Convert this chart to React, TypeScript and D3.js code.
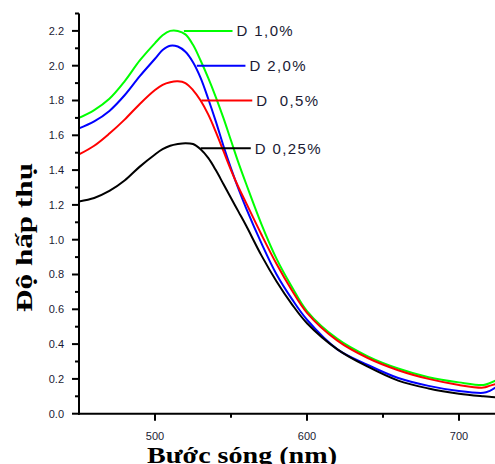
import * as d3 from "d3";

// wavelength (nm) sampled from the spectra
const wavelength = [
  450, 460, 470, 480, 490, 500, 505, 510, 515, 520, 525, 530, 535, 540, 545,
  550, 555, 560, 570, 580, 590, 600, 620, 640, 660, 680, 700, 716, 720, 724,
];

const d10 = [
  1.7, 1.745, 1.81, 1.91, 2.03, 2.13, 2.175, 2.2, 2.2, 2.18, 2.12, 2.03, 1.93,
  1.82, 1.7, 1.57, 1.44, 1.32, 1.09, 0.89, 0.73, 0.59, 0.43, 0.33, 0.26, 0.21,
  0.18, 0.165, 0.175, 0.19,
];
const d20 = [
  1.64, 1.68, 1.74, 1.83, 1.94, 2.04, 2.09, 2.115, 2.11, 2.08, 2.02, 1.93,
  1.81, 1.68, 1.54, 1.41, 1.29, 1.18, 0.98, 0.8, 0.66, 0.54, 0.37, 0.28,
  0.205, 0.16, 0.13, 0.12, 0.13, 0.15,
];
const d05 = [
  1.49, 1.54, 1.61, 1.69, 1.78, 1.86, 1.89, 1.905, 1.91, 1.9, 1.86, 1.8, 1.72,
  1.62, 1.51, 1.4, 1.3, 1.21, 1.03, 0.86, 0.71, 0.58, 0.42, 0.32, 0.25, 0.2,
  0.165, 0.15, 0.16, 0.17,
];
const d025 = [
  1.22, 1.24, 1.28, 1.34, 1.42, 1.49, 1.52, 1.54, 1.55, 1.555, 1.55, 1.52,
  1.47, 1.4, 1.32, 1.24, 1.16, 1.08, 0.91, 0.76, 0.63, 0.52, 0.37, 0.27, 0.19,
  0.145, 0.115, 0.1, 0.097, 0.095,
];

const seriesNames = ["D 1,0%", "D 2,0%", "D  0,5%", "D 0,25%"];
const seriesColors = ["#00ff00", "#0000ff", "#ff0000", "#000000"];
const seriesValues = [d10, d20, d05, d025];

// leader lines for the labels: [start nm, end nm, absorbance]
const leaderStart = [519, 527.5, 530.5, 530];
const leaderEnd = [551, 559.5, 564, 563];
const leaderValue = [2.2, 2.0, 1.8, 1.525];

const xMajor = [500, 600, 700];
const xMinor = [550, 650];

export default function App() {
  const width = 495;
  const height = 464;

  const x = d3.scaleLinear().domain([450, 725]).range([79, 497]);
  const y = d3.scaleLinear().domain([0, 2.3]).range([413.7, 13.5]);

  const line = d3
    .line<number>()
    .x((d, i) => x(wavelength[i]))
    .y((d) => y(d))
    .curve(d3.curveCatmullRom);

  const yMajor = d3.range(0, 2.21, 0.2);
  const yMinor = d3.range(0.1, 2.31, 0.2);

  return (
    <svg
      width={width}
      height={height}
      style={{ position: "absolute", left: 0, top: 0, background: "#fff" }}
    >
      {seriesValues.map((vals, i) => (
        <path
          key={i}
          d={line(vals) || ""}
          fill="none"
          stroke={seriesColors[i]}
          strokeWidth={2}
        />
      ))}

      {seriesNames.map((name, i) => (
        <g key={name}>
          <line
            x1={x(leaderStart[i])}
            x2={x(leaderEnd[i])}
            y1={y(leaderValue[i])}
            y2={y(leaderValue[i])}
            stroke={seriesColors[i]}
            strokeWidth={2}
          />
          <text
            x={x(leaderEnd[i]) + 4}
            y={y(leaderValue[i])}
            dy="0.36em"
            fontFamily="Arial, 'Liberation Sans', sans-serif"
            fontSize={15}
            letterSpacing={1.4}
            fill="#1a1a33"
            style={{ whiteSpace: "pre" }}
          >
            {name}
          </text>
        </g>
      ))}

      {/* axes */}
      <g stroke="#000" strokeWidth={2}>
        <line x1={x(450)} x2={x(450)} y1={y(2.3)} y2={y(0) + 1} />
        <line x1={x(450) - 1} x2={width} y1={y(0)} y2={y(0)} />
        {yMajor.map((v) => (
          <line key={v} x1={x(450) - 7} x2={x(450)} y1={y(v)} y2={y(v)} />
        ))}
        {yMinor.map((v) => (
          <line key={v} x1={x(450) - 4} x2={x(450)} y1={y(v)} y2={y(v)} />
        ))}
        {xMajor.map((v) => (
          <line key={v} x1={x(v)} x2={x(v)} y1={y(0)} y2={y(0) + 7} />
        ))}
        {xMinor.map((v) => (
          <line key={v} x1={x(v)} x2={x(v)} y1={y(0)} y2={y(0) + 4} />
        ))}
      </g>

      <g
        fontFamily="Arial, 'Liberation Sans', sans-serif"
        fontSize={11}
        fill="#1a1a33"
      >
        {yMajor.map((v) => (
          <text key={v} x={64} y={y(v)} dy="0.36em" textAnchor="end">
            {v.toFixed(1)}
          </text>
        ))}
        {xMajor.map((v) => (
          <text key={v} x={x(v)} y={440} textAnchor="middle">
            {v}
          </text>
        ))}
      </g>

      <text
        x={242}
        y={463}
        textAnchor="middle"
        fontFamily="'Times New Roman', 'Liberation Serif', serif"
        fontWeight="bold"
        fontSize={23}
        textLength={190}
        lengthAdjust="spacingAndGlyphs"
      >
        Bước sóng (nm)
      </text>
      <text
        transform="translate(32,237.5) rotate(-90)"
        textAnchor="middle"
        fontFamily="'Times New Roman', 'Liberation Serif', serif"
        fontWeight="bold"
        fontSize={24}
        textLength={149}
        lengthAdjust="spacingAndGlyphs"
      >
        Độ hấp thụ
      </text>
    </svg>
  );
}
